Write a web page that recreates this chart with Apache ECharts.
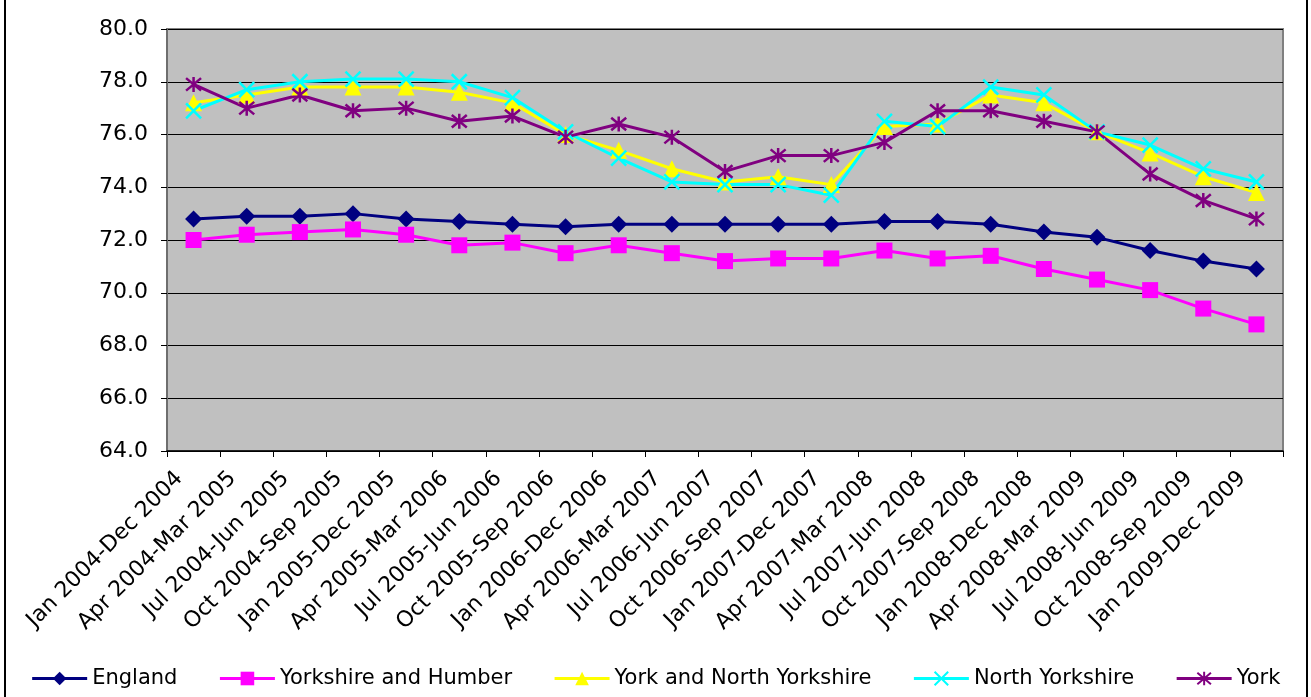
<!DOCTYPE html>
<html>
<head>
<meta charset="utf-8">
<script src="https://cdn.jsdelivr.net/npm/echarts@6/dist/echarts.min.js"></script>
<style>
	html, body { margin: 0; padding: 0; background: #fff; }
	#chart { width: 1311px; height: 697px; }
</style>
</head>
<body>
<div id="chart"></div>
<script>
// rolling 12-month periods
const periods = [
	'Jan 2004-Dec 2004', 'Apr 2004-Mar 2005', 'Jul 2004-Jun 2005', 'Oct 2004-Sep 2005',
	'Jan 2005-Dec 2005', 'Apr 2005-Mar 2006', 'Jul 2005-Jun 2006', 'Oct 2005-Sep 2006',
	'Jan 2006-Dec 2006', 'Apr 2006-Mar 2007', 'Jul 2006-Jun 2007', 'Oct 2006-Sep 2007',
	'Jan 2007-Dec 2007', 'Apr 2007-Mar 2008', 'Jul 2007-Jun 2008', 'Oct 2007-Sep 2008',
	'Jan 2008-Dec 2008', 'Apr 2008-Mar 2009', 'Jul 2008-Jun 2009', 'Oct 2008-Sep 2009',
	'Jan 2009-Dec 2009',
];
const england = [72.8, 72.9, 72.9, 73.0, 72.8, 72.7, 72.6, 72.5, 72.6, 72.6, 72.6, 72.6, 72.6, 72.7, 72.7, 72.6, 72.3, 72.1, 71.6, 71.2, 70.9];
const yorksHumber = [72.0, 72.2, 72.3, 72.4, 72.2, 71.8, 71.9, 71.5, 71.8, 71.5, 71.2, 71.3, 71.3, 71.6, 71.3, 71.4, 70.9, 70.5, 70.1, 69.4, 68.8];
const yorkNorthYorks = [77.2, 77.5, 77.8, 77.8, 77.8, 77.6, 77.2, 76.0, 75.4, 74.7, 74.2, 74.4, 74.1, 76.3, 76.4, 77.5, 77.2, 76.1, 75.3, 74.4, 73.8];
const northYorks = [76.9, 77.7, 78.0, 78.1, 78.1, 78.0, 77.4, 76.1, 75.1, 74.2, 74.1, 74.1, 73.7, 76.5, 76.3, 77.8, 77.5, 76.1, 75.6, 74.7, 74.2];
const york = [77.9, 77.0, 77.5, 76.9, 77.0, 76.5, 76.7, 75.9, 76.4, 75.9, 74.6, 75.2, 75.2, 75.7, 76.9, 76.9, 76.5, 76.1, 74.5, 73.5, 72.8];

const yMin = 64;
const yMax = 80;
const yStep = 2;

const font = 'DejaVu Sans, Verdana, sans-serif';
const xMark = 'path://M0,0L10,10M10,0L0,10';
const starMark = 'path://M0,0L10,10M10,0L0,10M5,-1L5,11';

const makeLine = (name, data, color, symbol, size, stroke) => ({
	name: name,
	type: 'line',
	data: data,
	symbol: symbol,
	symbolSize: size,
	lineStyle: { color: color, width: 3 },
	itemStyle: stroke
		? { color: color, borderColor: color, borderWidth: 2.5 }
		: { color: color },
	emphasis: { disabled: true },
	animation: false,
});

const myChart = echarts.init(document.getElementById('chart'));
const option = {
	animation: false,
	textStyle: { fontFamily: font },
	grid: {
		left: 167,
		right: 28,
		top: 29,
		bottom: 246,
		show: true,
		backgroundColor: '#c0c0c0',
		borderColor: '#808080',
		borderWidth: 2,
	},
	graphic: [
		{
			type: 'rect',
			shape: { x: 5, y: -5, width: 1302, height: 710 },
			style: { fill: 'none', stroke: '#000', lineWidth: 2 },
			silent: true,
		},
	],
	legend: {
		bottom: 3,
		left: 'center',
		itemWidth: 55,
		itemHeight: 17,
		itemGap: 41,
		lineStyle: { width: 3 },
		textStyle: { fontSize: 21, color: '#000', fontFamily: font },
		data: ['England', 'Yorkshire and Humber', 'York and North Yorkshire', 'North Yorkshire', 'York'],
	},
	xAxis: {
		type: 'category',
		data: periods,
		boundaryGap: true,
		axisLine: { lineStyle: { color: '#000', width: 1.5 } },
		axisTick: { show: true, length: 6, lineStyle: { color: '#000' } },
		axisLabel: {
			interval: 0,
			rotate: 45,
			fontSize: 22,
			color: '#000',
			margin: 10,
			padding: [0, 20, 0, 0],
		},
	},
	yAxis: {
		type: 'value',
		min: yMin,
		max: yMax,
		interval: yStep,
		axisLine: { show: true, lineStyle: { color: '#6e6e6e', width: 2 } },
		axisTick: { show: true, length: 6, lineStyle: { color: '#000' } },
		axisLabel: {
			fontSize: 22,
			color: '#000',
			margin: 19,
			formatter: (v) => v.toFixed(1),
		},
		splitLine: { lineStyle: { color: '#000', width: 1 } },
	},
	series: [
		makeLine('England', england, '#000080', 'diamond', 17),
		makeLine('Yorkshire and Humber', yorksHumber, '#ff00ff', 'rect', 16),
		makeLine('York and North Yorkshire', yorkNorthYorks, '#ffff00', 'triangle', 17),
		makeLine('North Yorkshire', northYorks, '#00ffff', xMark, 15, true),
		makeLine('York', york, '#800080', starMark, 15, true),
	],
};
myChart.setOption(option, true);
</script>
</body>
</html>
